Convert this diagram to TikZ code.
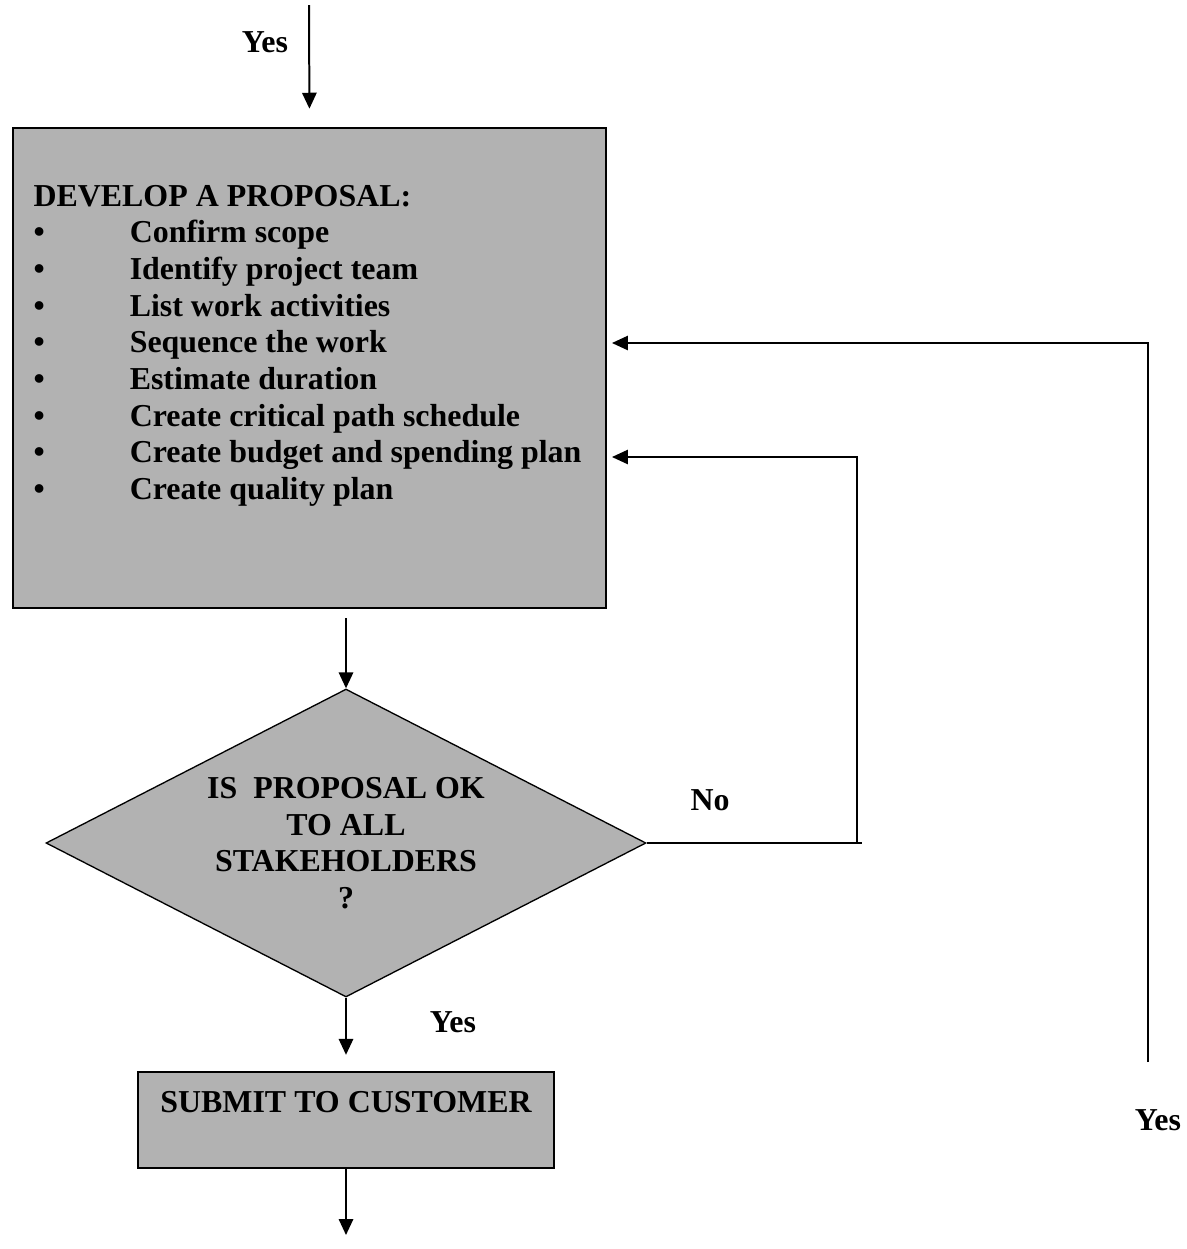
\documentclass[tikz,border=0pt]{standalone}
\usepackage{fontspec}
\setmainfont{Liberation Serif}
\usepackage{tikz}
\usetikzlibrary{arrows.meta,shapes.geometric}
\definecolor{GrisBoite}{gray}{0.70}
\tikzset{
Boite/.style={
 draw=black, 
 fill=GrisBoite, 
 line width=0.9pt, 
 inner sep=0pt, 
 align=center, 
 font=\fontsize{12pt}{13.8pt}\selectfont\bfseries
 },
Losange/.style={
 diamond, 
 draw=black, 
 fill=GrisBoite, 
 line width=0.5pt, 
 aspect=2, 
 inner sep=0pt, 
 minimum width=225.6pt, 
 minimum height=115.8pt, 
 align=center, 
 font=\fontsize{12pt}{13.8pt}\selectfont\bfseries
 },
Texte/.style={
 inner sep=0pt, 
 font=\fontsize{12pt}{13.8pt}\selectfont\bfseries
 },
Fleche/.style={
 draw=black, 
 line width=0.75pt, 
 -{Triangle[length=6pt,width=5.4pt]}
 },
Trait/.style={
 draw=black, 
 line width=0.6pt
 }
}
\begin{document}
\begin{tikzpicture}[x=0.376pt,y=-0.376pt]
\useasboundingbox (0,0) rectangle (1186,1249);
\node[Boite,minimum width=223pt,minimum height=180.5pt] (prop) at (309.5,368) {};
\node[Texte,anchor=base west] (liste) at (33,206) {\begin{tabular}[t]{@{}p{36.2pt}@{}l@{}}
\multicolumn{2}{@{}l@{}}{DEVELOP A PROPOSAL:}\\
\textbullet & Confirm scope\\
\textbullet & Identify project team\\
\textbullet & List work activities\\
\textbullet & Sequence the work\\
\textbullet & Estimate duration\\
\textbullet & Create critical path schedule\\
\textbullet & Create budget and spending plan\\
\textbullet & Create quality plan
\end{tabular}};
\node[Losange] (dec) at (346,843) {IS~~PROPOSAL OK\\TO ALL\\STAKEHOLDERS\\?};
\node[Boite,minimum width=156.4pt,minimum height=36.1pt] (sub) at (346,1120) {SUBMIT TO CUSTOMER\\~};
\coordinate (Haut) at (309,5);
\coordinate (Sequence) at (612,343);
\coordinate (Budget) at (612,457);
\coordinate (NonCoin) at (857,843);
\coordinate (NonFin) at (862,843);
\coordinate (OuiBas) at (1148,1062);
\coordinate (Bas) at (346,1235);
\draw[Fleche,shorten >=6.8pt] (Haut) -- (prop.north);
\draw[Fleche,shorten <=3.4pt] (prop.south -| dec.north) -- (dec.north);
\draw[Trait] (dec.east) -- (NonFin);
\draw[Fleche,line width=0.6pt] (NonCoin) |- (Budget);
\draw[Fleche,line width=0.6pt] (OuiBas) |- (Sequence);
\draw[Fleche,shorten >=6pt] (dec.south) -- (sub.north);
\draw[Fleche] (sub.south) -- (Bas);
\node[Texte] (oui1) at (265,42) {Yes};
\node[Texte] (non) at (710,800) {No};
\node[Texte] (oui2) at (453,1022) {Yes};
\node[Texte] (oui3) at (1158,1120) {Yes};
\end{tikzpicture}
\end{document}
